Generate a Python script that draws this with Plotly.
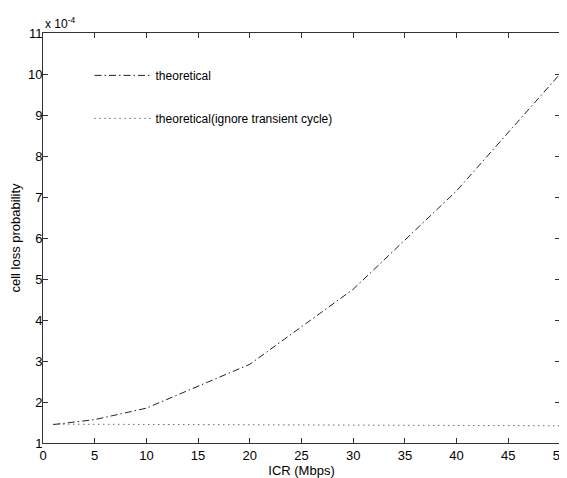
import plotly.graph_objects as go

icr = [1, 2, 5, 10, 20, 30, 40, 50]
clp_theoretical = [1.45, 1.48, 1.57, 1.85, 2.92, 4.75, 7.15, 10.0]
icr_ignore = [1, 10, 20, 30, 40, 50]
clp_ignore = [1.46, 1.455, 1.45, 1.44, 1.43, 1.42]

x_ticks = list(range(0, 51, 5))
y_ticks = list(range(1, 12))

font = "Liberation Sans, Arial, Helvetica, sans-serif"

fig = go.Figure()
fig.add_trace(go.Scatter(
    x=icr, y=clp_theoretical, mode="lines", name="theoretical",
    legendgroup="a",
    line=dict(color="#222222", width=1, dash="7px,3px,1.5px,3px"),
))
fig.add_trace(go.Scatter(
    x=icr_ignore, y=clp_ignore, mode="lines",
    name="theoretical(ignore transient cycle)",
    legendgroup="b",
    line=dict(color="#222222", width=1, dash="1px,4px"),
))

axis_common = dict(
    showgrid=False, zeroline=False, showline=True, linecolor="#333333",
    linewidth=1, mirror="ticks", ticks="inside", ticklen=5,
    tickcolor="#333333", tickfont=dict(size=13, color="black", family=font),
    automargin=False, ticklabeloverflow="allow",
)

# the page body adds an 8px offset; compensate in size and margins
fig.update_layout(
    width=559, height=470,
    paper_bgcolor="white", plot_bgcolor="white",
    margin=dict(l=35, r=7, t=25, b=35),
    font=dict(family=font, color="black", size=12),
    xaxis=dict(range=[0, 50], tickvals=x_ticks, ticktext=[str(v) for v in x_ticks],
               title=dict(text="ICR (Mbps)", font=dict(size=13), standoff=2),
               **axis_common),
    yaxis=dict(range=[1, 11], tickvals=y_ticks, ticktext=[str(v) for v in y_ticks],
               title=dict(text="cell loss probability", font=dict(size=13), standoff=4),
               ticklabelstandoff=-3,
               **axis_common),
    legend=dict(
        x=0.09, y=0.932, xanchor="left", yanchor="top",
        bgcolor="rgba(0,0,0,0)", borderwidth=0,
        font=dict(size=12, family=font),
        tracegroupgap=24, itemwidth=56,
    ),
    showlegend=True,
)

fig.add_annotation(
    text="x 10<sup>-4</sup>", xref="paper", yref="paper",
    x=0.0, y=1.0, xanchor="left", yanchor="bottom", showarrow=False,
    font=dict(size=12, family=font), yshift=0,
)

fig.write_html("out.html")
